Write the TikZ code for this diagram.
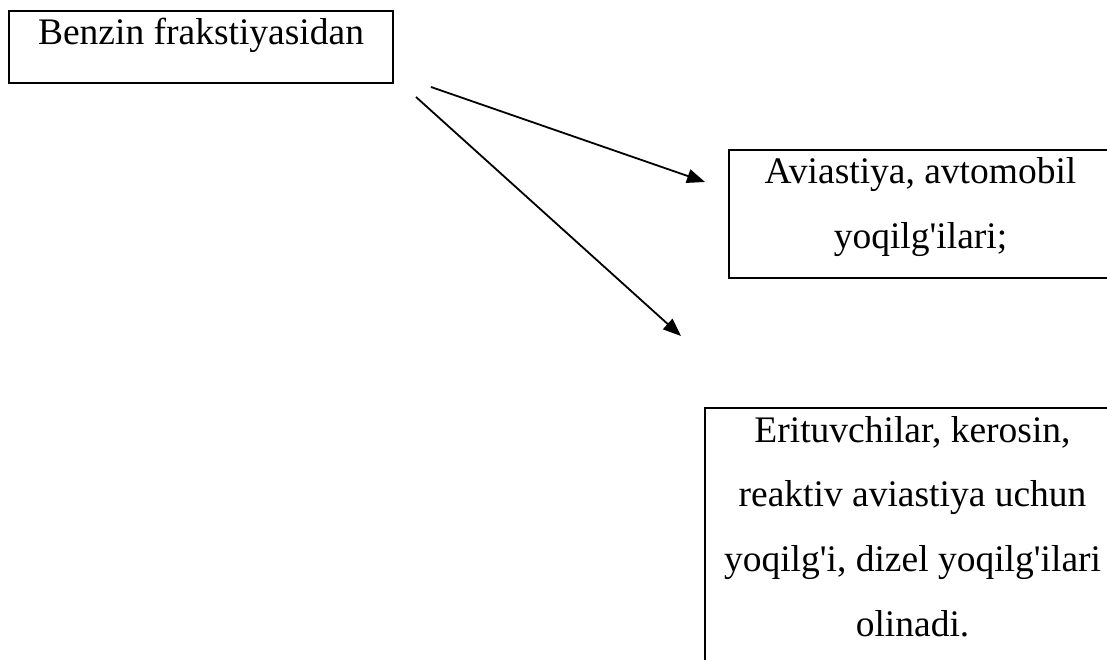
\documentclass[tikz,border=0pt]{standalone}
\usepackage{fontspec}
\setmainfont{Liberation Serif}[Ligatures=TeXOff]
\usetikzlibrary{arrows.meta}
\tikzset{
  box/.style={draw=black, line width=2.2pt},
  lbl/.style={anchor=base, inner sep=0pt, font={\fontsize{37.5}{45}\selectfont}},
  conn/.style={line width=1.8pt, -{Triangle[length=18pt,width=14pt]}}
}
\begin{document}
\begin{tikzpicture}[x=1pt,y=-1pt]
\useasboundingbox (0,0) rectangle (1107,660);
\clip (0,0) rectangle (1107,660);
% boxes
\draw[box] (9,11) rectangle (393,83);
\draw[box] (729,150) rectangle (1112,278);
\draw[box] (705,408) rectangle (1120,700);
% texts
\node[lbl] (t1) at (201,45) {Benzin frakstiyasidan};
\node[lbl] (t2a) at (920.5,184) {Aviastiya, avtomobil};
\node[lbl] (t2b) at (920.5,248) {yoqilg'ilari;};
\node[lbl] (t3a) at (912.5,442) {Erituvchilar, kerosin,};
\node[lbl] (t3b) at (912.5,506) {reaktiv aviastiya uchun};
\node[lbl] (t3c) at (912.5,571) {yoqilg'i, dizel yoqilg'ilari};
\node[lbl] (t3d) at (912.5,636) {olinadi.};
% connectors
\coordinate (s1) at (431,87);
\coordinate (e1) at (705,182);
\coordinate (s2) at (416,97);
\coordinate (e2) at (681,336);
\draw[conn] (s1) -- (e1);
\draw[conn] (s2) -- (e2);
\end{tikzpicture}
\end{document}
